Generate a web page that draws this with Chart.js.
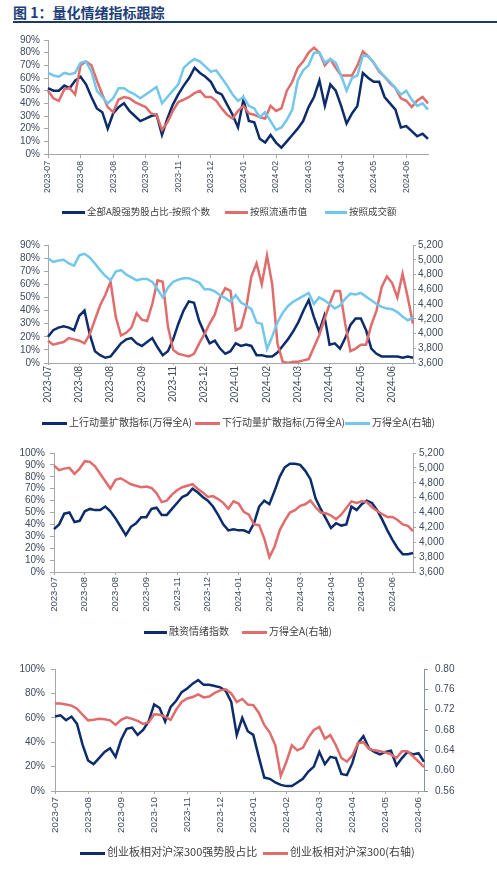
<!DOCTYPE html>
<html>
<head>
<meta charset="utf-8">
<script src="https://cdn.jsdelivr.net/npm/chart.js@4.4.1/dist/chart.umd.min.js"></script>
<style>
  body { margin: 0; background: #fff; width: 497px; height: 872px; position: relative; overflow: hidden;
         font-family: "Noto Sans CJK SC", "Liberation Sans", sans-serif; }
  .title { position: absolute; left: 13px; top: 4px; font-size: 14px; line-height: 16px; font-weight: bold; color: #1e3f7a; }
  .rule { position: absolute; left: 13px; right: 0; top: 21px; height: 2px; background: #1f3864; }
  .box { position: absolute; left: 0; width: 497px; }
  .lg { position: absolute; color: #404040; white-space: nowrap; line-height: 14px; }
  .lg i { display: inline-block; height: 3px; vertical-align: middle; margin-right: 2px; }
</style>
</head>
<body>
<div class="title">图 1：量化情绪指标跟踪</div>
<div class="rule"></div>
<div class="box" style="top:30px;height:200px"><canvas id="c1"></canvas></div>
<div class="box" style="top:232px;height:200px"><canvas id="c2"></canvas></div>
<div class="box" style="top:440px;height:200px"><canvas id="c3"></canvas></div>
<div class="box" style="top:655px;height:190px"><canvas id="c4"></canvas></div>

<script>
// 横轴月份标签
const monthsA = ['2023-07','2023-08','2023-08','2023-09','2023-11','2023-12','2024-01','2024-02','2024-03','2024-04','2024-05','2024-06'];
const monthsB = ['2023-07','2023-08','2023-09','2023-10','2023-11','2023-12','2024-01','2024-02','2024-03','2024-04','2024-05','2024-06'];

// 图1 强势股占比 (%)
const strongCount = [52,50,50,54,52,58,61,55,45,36, 33,20,32,37,40,34,30,26,28,30, 31,15,28,39,47,54,60,68,64,61,
  57,49,47,39,31,21, 43,26,25,12,9,15,9,5,10,15, 20,26,37,45,58,38,55,50,38,24, 32,38,64,60,57,57,45,40,35,21, 22,18,14,16,12];
const strongFloat = [50,44,42,51,52,47,70,73,70,58, 47,37,33,43,45,44,41,39,37,32, 31,19,25,34,41,43,45,48,50,45,
  45,42,36,31,28,34, 38,32,31,29,28,38,34,36,50,57, 68,73,80,84,80,70,75,68,62,62, 62,70,81,77,72,65,61,56,52,44, 42,37,42,45,40];
const strongTurnover = [64,62,61,64,63,64,72,73,65,50, 45,40,44,52,52,49,47,44,47,50, 53,40,45,50,55,68,72,75,73,69,
  65,66,60,54,47,42, 45,38,36,29,33,26,19,21,27,35, 58,66,70,80,80,72,75,72,62,50, 60,62,78,77,72,66,61,57,52,47, 50,43,38,40,35];

// 图2 动量扩散指标 (%) 与万得全A
const upDiffusion = [20,25,27,28,27,25,36,40,22,9, 6,4,5,10,15,18,19,15,13,16, 19,12,6,9,18,30,40,47,46,32,
  23,15,17,11,7,9, 15,13,14,13,6,6,5,5,8,13, 18,24,31,40,48,35,24,36,14,15, 11,19,29,34,34,25,11,7,5,5, 5,5,4,5,4];
const downDiffusion = [17,14,15,16,19,18,17,15,22,33, 44,52,62,35,21,23,27,38,33,32, 45,63,62,28,10,7,6,5,7,15,
  22,30,37,50,57,55,25, 27,42,66,76,60,82,60,15,1,0, 1,1,2,3,12,21,33,45,55,55, 30,9,11,14,14,29,40,58,66,61, 50,68,50,30];
const windA2 = [5020,4970,4990,5000,4950,4920,5060,5080,5030,4950, 4860,4780,4720,4840,4860,4800,4760,4720,4740,4740,
  4700,4600,4490,4620,4700,4730,4750,4750,4720,4690, 4600,4600,4570,4520,4480,4430,4520,
  4420,4380,4330,4150,4130,3790,3960,4150,4280,4370, 4430,4470,4510,4550,4400,4490,4450,4400,4340,4380,
  4470,4540,4530,4550,4500,4450,4400,4360,4340,4330, 4290,4230,4180,4210];

// 图3 融资情绪指数 (%) 与万得全A
const marginIndex = [36,40,49,50,42,43,51,53,52,52, 55,51,45,38,31,38,41,46,46,53, 54,48,48,53,58,63,65,70,67,63,
  60,55,48,40,35,36,35, 35,33,41,55,60,57,68,80,88,91, 91,90,85,78,62,53,45,37,41,39, 40,55,52,57,60,58,52,44,35,27, 20,15,15,16];
const windA3 = [5030,4970,4990,5000,4920,4990,5090,5080,5020,4920, 4820,4720,4840,4860,4820,4780,4760,4740,4750,4730,
  4660,4540,4560,4640,4700,4740,4760,4780,4720,4670, 4610,4620,4580,4530,4450,4550,4520,
  4410,4370,4240,4230,4050,3800,3940,4160,4290,4400, 4430,4490,4510,4560,4470,4400,4390,4360,4310,4370,
  4460,4550,4530,4550,4540,4470,4420,4380,4340,4340, 4300,4240,4220,4150];

// 图4 创业板相对沪深300
const cybStrong = [61,62,58,61,55,38,25,22,27,32, 35,28,42,51,52,46,50,57,71,68, 57,69,74,81,84,88,91,87,87,86,
  85,82,73,46, 60,49,46,28,11,10,7,5,4,4, 7,10,16,20,32,22,28,27,14,13, 23,39,45,35,32,30,32,33,21,27, 32,30,31,24];
const cybRelative = [0.732,0.732,0.730,0.728,0.722,0.710,0.699,0.700,0.702,0.701, 0.699,0.690,0.700,0.705,0.702,0.698,0.692,0.695,0.711,0.710,
  0.706,0.700,0.720,0.735,0.742,0.745,0.750,0.744,0.746,0.753, 0.758,0.760,0.752,0.735,
  0.741,0.730,0.729,0.714,0.690,0.675,0.650,0.590,0.617,0.650, 0.640,0.645,0.665,0.680,0.686,0.663,0.670,0.650,0.625,0.618,
  0.630,0.654,0.656,0.643,0.640,0.638,0.636,0.632,0.625,0.638, 0.638,0.628,0.618,0.607];

const NAVY = '#0c2c6b', RED = '#e06c6c', CYAN = '#72c7eb';
const AXIS = '#a6a6a6', TXT = '#3f4a5c';

Chart.defaults.font.family = '"Liberation Sans", "Noto Sans CJK SC", sans-serif';
Chart.defaults.animation = false;

// 每6个点一个月份标签
function makeLabels(months, n) {
  return Array.from({ length: n }, (_, i) => i % 6 === 0 ? (months[i / 6] || '') : '');
}

function xAxis(size, tick, pad) {
  return {
    type: 'category',
    grid: { drawOnChartArea: false, tickLength: tick, color: AXIS },
    border: { color: AXIS },
    ticks: {
      autoSkip: false, maxRotation: 90, minRotation: 90, padding: pad,
      font: { size: size }, color: TXT,
      callback(v) { const l = this.getLabelForValue(v); return l ? l : null; }
    },
    afterFit(s) { s.height = 45; }
  };
}

function yAxis(pos, min, max, step, fmt, width, tick, pad, color) {
  return {
    type: 'linear', position: pos, min: min, max: max,
    grid: { drawOnChartArea: false, tickLength: tick, color: color || AXIS },
    border: { color: color || AXIS },
    ticks: { stepSize: step, autoSkip: false, padding: pad, font: { size: 10 }, color: TXT, callback: fmt },
    afterFit(s) { s.width = width; }
  };
}

const pct = v => v + '%';
const thousands = v => v.toLocaleString('en-US');

function line(label, data, color, order, axis) {
  return { label: label, data: data, borderColor: color, backgroundColor: color, borderWidth: 2.5,
           pointRadius: 0, tension: 0, fill: false, order: order, yAxisID: axis || 'y' };
}

function makeChart(id, labels, datasets, scales, padding) {
  return new Chart(document.getElementById(id), {
    type: 'line',
    data: { labels: labels, datasets: datasets },
    options: {
      responsive: true, maintainAspectRatio: false, devicePixelRatio: 1,
      layout: { padding: padding },
      plugins: { legend: { display: false }, tooltip: { enabled: false } },
      scales: scales
    }
  });
}

function addLegend(y, size, items) {
  items.forEach(([x, w, text, color]) => {
    const d = document.createElement('div');
    d.className = 'lg';
    d.style.left = x + 'px';
    d.style.top = (y - 7) + 'px';
    d.style.fontSize = size + 'px';
    d.innerHTML = '<i style="width:' + w + 'px;background:' + color + '"></i>' + text;
    document.body.appendChild(d);
  });
}

// 图1
makeChart('c1', makeLabels(monthsA, strongCount.length), [
  line('全部A股强势股占比-按照个数', strongCount, NAVY, 3),
  line('按照流通市值', strongFloat, RED, 2),
  line('按照成交额', strongTurnover, CYAN, 1)
], {
  x: xAxis(8.7, 4, 3),
  y: yAxis('left', 0, 90, 10, pct, 48, 4, 4)
}, { top: 10, left: 0, right: 69, bottom: 31 });
addLegend(211, 9.5, [
  [62, 23, '全部A股强势股占比-按照个数', NAVY],
  [225, 23, '按照流通市值', RED],
  [325, 22, '按照成交额', CYAN]
]);

// 图2
makeChart('c2', makeLabels(monthsA, upDiffusion.length), [
  line('上行动量扩散指标(万得全A)', upDiffusion, NAVY, 3),
  line('下行动量扩散指标(万得全A)', downDiffusion, RED, 2),
  line('万得全A(右轴)', windA2, CYAN, 1, 'y2')
], {
  x: xAxis(10, 2, 1),
  y: yAxis('left', 0, 90, 10, pct, 48, 4, 4),
  y2: yAxis('right', 3600, 5200, 200, thousands, 40, 3, 2)
}, { top: 13, left: 0, right: 44, bottom: 24 });
addLegend(422, 10, [
  [42, 25, '上行动量扩散指标(万得全A)', NAVY],
  [195, 25, '下行动量扩散指标(万得全A)', RED],
  [345, 25, '万得全A(右轴)', CYAN]
]);

// 图3
makeChart('c3', makeLabels(monthsA, marginIndex.length), [
  line('融资情绪指数', marginIndex, NAVY, 2),
  line('万得全A(右轴)', windA3, RED, 1, 'y2')
], {
  x: xAxis(9.5, 3, 2),
  y: yAxis('left', 0, 100, 10, pct, 54, 4, 5),
  y2: yAxis('right', 3600, 5200, 200, thousands, 40, 3, 3)
}, { top: 13, left: 0, right: 44, bottom: 23 });
addLegend(631, 10, [
  [144, 23, '融资情绪指数', NAVY],
  [242, 25, '万得全A(右轴)', RED]
]);

// 图4
makeChart('c4', makeLabels(monthsB, cybStrong.length), [
  line('创业板相对沪深300强势股占比', cybStrong, NAVY, 2),
  line('创业板相对沪深300(右轴)', cybRelative, RED, 1, 'y2')
], {
  x: xAxis(9.8, 3, 3),
  y: yAxis('left', 0, 100, 20, pct, 55, 4, 6),
  y2: yAxis('right', 0.56, 0.80, 0.04, v => v.toFixed(2), 40, 4, 7, '#7f93ad')
}, { top: 14, left: 0, right: 33, bottom: 9 });
addLegend(851, 11, [
  [80, 25, '创业板相对沪深300强势股占比', NAVY],
  [263, 25, '创业板相对沪深300(右轴)', RED]
]);
</script>
</body>
</html>
